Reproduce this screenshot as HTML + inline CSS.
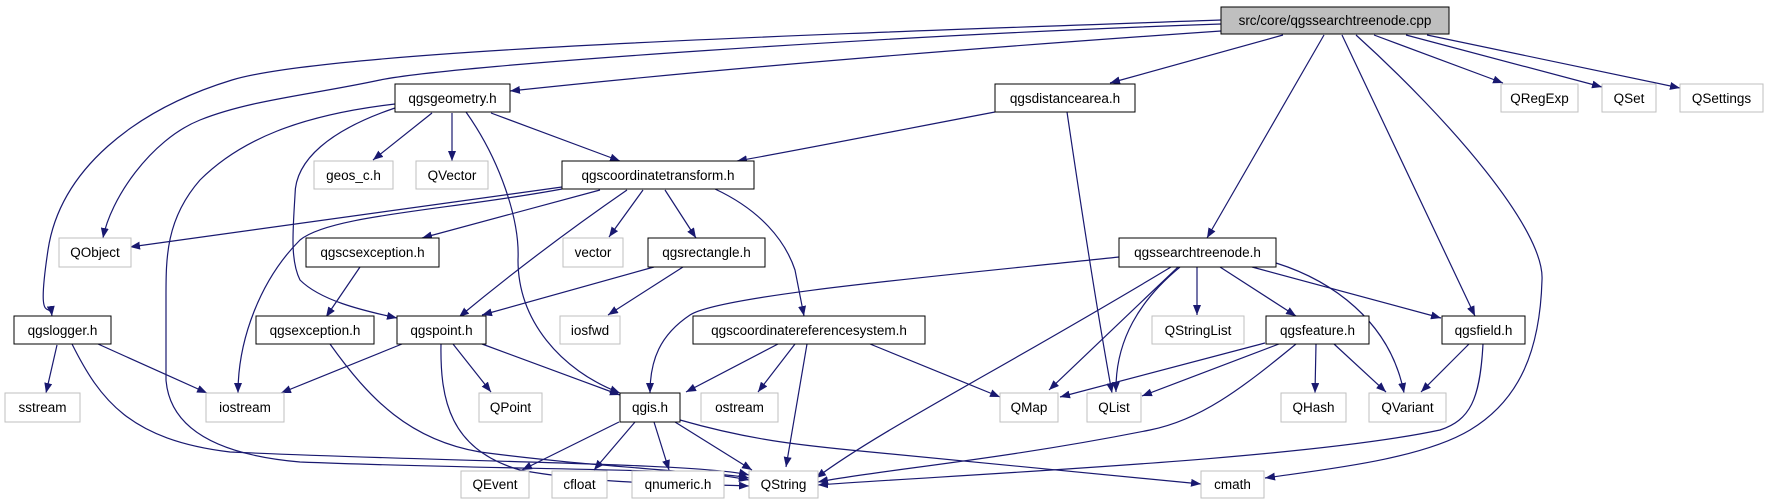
<!DOCTYPE html>
<html><head><meta charset="utf-8"><style>
html,body{margin:0;padding:0;background:#fff;}
svg{display:block;}
text{font-family:"Liberation Sans",sans-serif;font-size:13.5px;fill:#000;text-anchor:middle;}
.e{fill:none;stroke:#191970;stroke-width:1.2;marker-end:url(#a);}
.n{fill:#fff;stroke:#000;stroke-width:1;}
.x{fill:#fff;stroke:#bfbfbf;stroke-width:1;}
</style></head><body>
<svg width="1768" height="504" viewBox="0 0 1768 504" xmlns="http://www.w3.org/2000/svg">
<defs><marker id="a" markerUnits="userSpaceOnUse" markerWidth="11" markerHeight="8" refX="10" refY="4" orient="auto"><path d="M0,0 L10,4 L0,8 z" fill="#191970"/></marker></defs>
<!-- edges -->
<path class="e" d="M1221,20 C800,35 330,50 232,80 S60,170 48,250 S50,300 52,316"/>
<path class="e" d="M1221,24 C900,35 450,65 380,80 S250,100 200,120 S110,200 103,238"/>
<path class="e" d="M1221,31 Q800,60 510,91"/>
<path class="e" d="M1283,35 L1110,83"/>
<path class="e" d="M1324,35 L1207,238"/>
<path class="e" d="M1342,35 L1475,316"/>
<path class="e" d="M1356,35 C1450,120 1545,230 1542,280 C1540,350 1520,400 1470,430 S1320,470 1265,478"/>
<path class="e" d="M1374,35 L1503,83"/>
<path class="e" d="M1406,35 L1602,87"/>
<path class="e" d="M1427,35 L1680,88"/>
<path class="e" d="M432,113 L373,160"/>
<path class="e" d="M452,113 L452,161"/>
<path class="e" d="M491,113 L620,161"/>
<path class="e" d="M395,104 C300,115 240,140 200,180 C165,220 166,260 166,300 L166,380 C170,430 220,455 300,462 C500,470 700,468 749,478"/>
<path class="e" d="M395,108 C330,130 295,160 295,195 C293,230 290,260 300,280 C320,300 360,310 397,318"/>
<path class="e" d="M466,112 C500,160 520,220 518,260 C518,320 560,370 620,393"/>
<path class="e" d="M995,112 C900,130 800,150 737,161"/>
<path class="e" d="M1067,112 C1080,200 1095,300 1112,393"/>
<path class="e" d="M562,187 L130,247"/>
<path class="e" d="M600,190 L422,238"/>
<path class="e" d="M562,189 C450,210 330,215 300,240 C260,280 238,340 238,393"/>
<path class="e" d="M627,190 Q540,250 459,317"/>
<path class="e" d="M643,190 L609,237"/>
<path class="e" d="M665,190 L696,238"/>
<path class="e" d="M715,189 C760,210 785,240 795,270 L804,316"/>
<path class="e" d="M360,267 L326,317"/>
<path class="e" d="M654,267 L482,315"/>
<path class="e" d="M683,267 L608,315"/>
<path class="e" d="M57,345 L46,393"/>
<path class="e" d="M98,344 L207,393"/>
<path class="e" d="M72,344 C100,400 130,440 230,452 C450,462 700,463 749,475"/>
<path class="e" d="M330,344 C370,400 410,440 480,452 C600,468 700,470 749,480"/>
<path class="e" d="M402,344 L281,393"/>
<path class="e" d="M453,344 L491,392"/>
<path class="e" d="M482,344 L620,395"/>
<path class="e" d="M441,344 C440,400 450,450 520,470 C600,485 700,484 749,486"/>
<path class="e" d="M619,422 L522,470"/>
<path class="e" d="M635,422 L594,470"/>
<path class="e" d="M654,422 L669,470"/>
<path class="e" d="M675,422 L752,470"/>
<path class="e" d="M680,420 C750,440 800,445 850,450 C1000,465 1150,478 1201,484"/>
<path class="e" d="M778,344 L686,392"/>
<path class="e" d="M795,344 L758,392"/>
<path class="e" d="M807,344 L786,467"/>
<path class="e" d="M870,344 L1000,397"/>
<path class="e" d="M1119,257 C950,275 720,295 690,315 C660,335 650,360 650,393"/>
<path class="e" d="M1171,267 C1000,370 880,430 816,478"/>
<path class="e" d="M1178,267 L1049,390"/>
<path class="e" d="M1180,267 C1140,300 1115,340 1116,392"/>
<path class="e" d="M1197,267 L1197,315"/>
<path class="e" d="M1220,267 L1296,316"/>
<path class="e" d="M1252,267 L1441,318"/>
<path class="e" d="M1276,263 C1330,280 1390,320 1404,393"/>
<path class="e" d="M1265,343 L1060,397"/>
<path class="e" d="M1279,344 L1142,396"/>
<path class="e" d="M1296,344 C1240,390 1200,420 1150,430 C1000,460 880,470 818,482"/>
<path class="e" d="M1316,344 L1315,393"/>
<path class="e" d="M1334,344 L1386,392"/>
<path class="e" d="M1469,344 L1421,392"/>
<path class="e" d="M1483,344 C1480,400 1470,420 1440,430 C1300,460 950,475 818,485"/>
<!-- nodes -->
<rect x="1221" y="7" width="228" height="27" fill="#bfbfbf" stroke="#000"/><text x="1335" y="25">src/core/qgssearchtreenode.cpp</text>
<rect class="n" x="395" y="84" width="115" height="28"/><text x="452.5" y="103">qgsgeometry.h</text>
<rect class="n" x="995" y="84" width="140" height="28"/><text x="1065" y="103">qgsdistancearea.h</text>
<rect class="x" x="1501" y="84" width="77" height="28"/><text x="1539.5" y="103">QRegExp</text>
<rect class="x" x="1602" y="84" width="54" height="28"/><text x="1629" y="103">QSet</text>
<rect class="x" x="1680" y="84" width="83" height="28"/><text x="1721.5" y="103">QSettings</text>
<rect class="x" x="314" y="161" width="79" height="28"/><text x="353.5" y="180">geos_c.h</text>
<rect class="x" x="416" y="161" width="72" height="28"/><text x="452" y="180">QVector</text>
<rect class="n" x="562" y="161" width="192" height="28"/><text x="658" y="180">qgscoordinatetransform.h</text>
<rect class="x" x="59" y="238" width="72" height="29"/><text x="95" y="257">QObject</text>
<rect class="n" x="306" y="238" width="133" height="29"/><text x="372.5" y="257">qgscsexception.h</text>
<rect class="x" x="563" y="238" width="60" height="29"/><text x="593" y="257">vector</text>
<rect class="n" x="648" y="238" width="117" height="29"/><text x="706.5" y="257">qgsrectangle.h</text>
<rect class="n" x="1119" y="238" width="157" height="29"/><text x="1197.5" y="257">qgssearchtreenode.h</text>
<rect class="n" x="14" y="316" width="97" height="28"/><text x="62.5" y="335">qgslogger.h</text>
<rect class="n" x="256" y="316" width="118" height="28"/><text x="315" y="335">qgsexception.h</text>
<rect class="n" x="397" y="316" width="89" height="28"/><text x="441.5" y="335">qgspoint.h</text>
<rect class="x" x="560" y="316" width="60" height="28"/><text x="590" y="335">iosfwd</text>
<rect class="n" x="693" y="316" width="232" height="28"/><text x="809" y="335">qgscoordinatereferencesystem.h</text>
<rect class="x" x="1152" y="316" width="92" height="28"/><text x="1198" y="335">QStringList</text>
<rect class="n" x="1266" y="316" width="103" height="28"/><text x="1317.5" y="335">qgsfeature.h</text>
<rect class="n" x="1442" y="316" width="83" height="28"/><text x="1483.5" y="335">qgsfield.h</text>
<rect class="x" x="5" y="393" width="75" height="29"/><text x="42.5" y="412">sstream</text>
<rect class="x" x="206" y="393" width="78" height="29"/><text x="245" y="412">iostream</text>
<rect class="x" x="479" y="393" width="63" height="29"/><text x="510.5" y="412">QPoint</text>
<rect class="n" x="620" y="393" width="60" height="29"/><text x="650" y="412">qgis.h</text>
<rect class="x" x="701" y="393" width="77" height="29"/><text x="739.5" y="412">ostream</text>
<rect class="x" x="1000" y="393" width="58" height="29"/><text x="1029" y="412">QMap</text>
<rect class="x" x="1087" y="393" width="54" height="29"/><text x="1114" y="412">QList</text>
<rect class="x" x="1281" y="393" width="65" height="29"/><text x="1313.5" y="412">QHash</text>
<rect class="x" x="1369" y="393" width="77" height="29"/><text x="1407.5" y="412">QVariant</text>
<rect class="x" x="461" y="471" width="68" height="27"/><text x="495" y="489">QEvent</text>
<rect class="x" x="552" y="471" width="55" height="27"/><text x="579.5" y="489">cfloat</text>
<rect class="x" x="632" y="471" width="92" height="27"/><text x="678" y="489">qnumeric.h</text>
<rect class="x" x="749" y="471" width="69" height="27"/><text x="783.5" y="489">QString</text>
<rect class="x" x="1201" y="471" width="63" height="27"/><text x="1232.5" y="489">cmath</text>
</svg>
</body></html>
